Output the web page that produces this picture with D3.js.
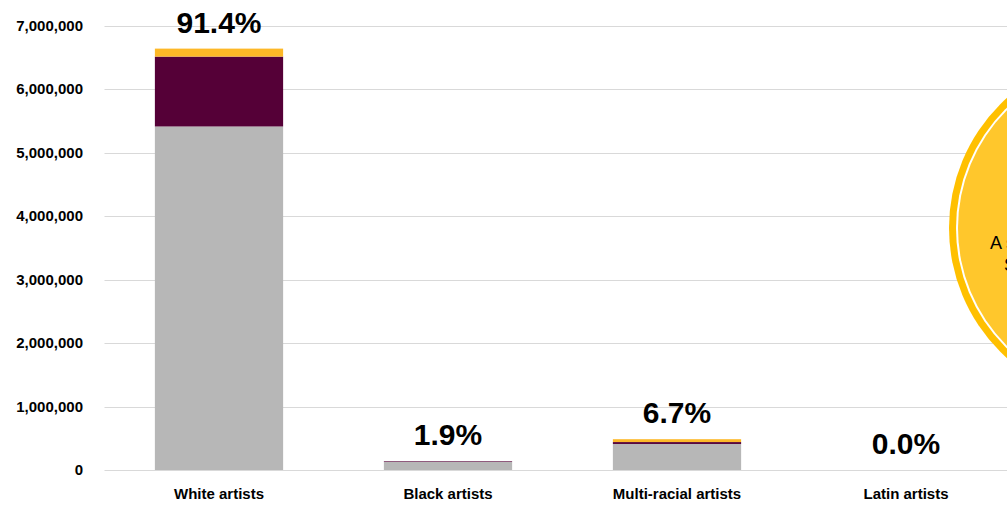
<!DOCTYPE html>
<html>
<head>
<meta charset="utf-8">
<script src="https://cdn.jsdelivr.net/npm/d3@7"></script>
<style>
  html, body { margin: 0; padding: 0; background: #fff; overflow: hidden; }
  svg { display: block; font-family: "Liberation Sans", Arial, sans-serif; }
</style>
</head>
<body>
<svg id="chart" width="1007" height="507"></svg>
<script>
// Categories and stacked segment values (number of works)
const categories = ["White artists", "Black artists", "Multi-racial artists", "Latin artists"];
const baseValues = [5410000, 128000, 410000, 0];      // grey segment
const middleValues = [1100000, 10000, 30000, 0];      // maroon segment
const topValues = [126000, 0, 45000, 0];              // gold segment
const shareLabels = ["91.4%", "1.9%", "6.7%", "0.0%"];
const yTicks = [0, 1000000, 2000000, 3000000, 4000000, 5000000, 6000000, 7000000];
const calloutLines = ["A small share of works by Asian", "Sculptors and painters alike"];

const segmentKeys = ["base", "middle", "top"];
const segmentColors = { base: "#b7b7b7", middle: "#550037", top: "#fdb827" };

const rows = categories.map((c, i) => ({
  category: c, base: baseValues[i], middle: middleValues[i], top: topValues[i], label: shareLabels[i]
}));

const svg = d3.select("#chart");
const margin = { left: 104.5, right: 1020.5, top: 25.5, bottom: 470 };

const x = d3.scaleBand().domain(categories).range([margin.left, margin.right]).paddingInner(0.44).paddingOuter(0.22);
const y = d3.scaleLinear().domain([0, 7000000]).range([margin.bottom, margin.top]);

// Horizontal gridlines
svg.append("g")
  .selectAll("line")
  .data(yTicks)
  .join("line")
  .attr("x1", margin.left).attr("x2", 1007)
  .attr("y1", d => Math.round(y(d)) + 0.5).attr("y2", d => Math.round(y(d)) + 0.5)
  .attr("stroke", "#d9d9d9").attr("stroke-width", 1);

// Y axis labels
const yAxis = d3.axisLeft(y).tickValues(yTicks).tickFormat(d3.format(",")).tickSize(0).tickPadding(0);
svg.append("g")
  .attr("transform", `translate(83,0)`)
  .call(yAxis)
  .call(g => g.select(".domain").remove())
  .call(g => g.selectAll("text")
    .attr("font-family", "Liberation Sans, Arial, sans-serif")
    .attr("font-size", 15).attr("font-weight", "bold").attr("fill", "#000"));

// Stacked bars
const stack = d3.stack().keys(segmentKeys)(rows);
svg.append("g")
  .selectAll("g")
  .data(stack)
  .join("g")
  .attr("fill", s => segmentColors[s.key])
  .selectAll("rect")
  .data(s => s)
  .join("rect")
  .attr("x", d => x(d.data.category))
  .attr("width", x.bandwidth())
  .attr("y", d => y(d[1]))
  .attr("height", d => Math.max(0, y(d[0]) - y(d[1])));

// Share labels above bars
svg.append("g")
  .selectAll("text")
  .data(rows)
  .join("text")
  .attr("x", d => x(d.category) + x.bandwidth() / 2)
  .attr("y", d => y(d.base + d.middle + d.top) - 16)
  .attr("text-anchor", "middle")
  .attr("font-size", 30).attr("font-weight", "bold").attr("fill", "#000")
  .text(d => d.label);

// Category labels
svg.append("g")
  .selectAll("text")
  .data(categories)
  .join("text")
  .attr("x", d => x(d) + x.bandwidth() / 2)
  .attr("y", 499)
  .attr("text-anchor", "middle")
  .attr("font-size", 15).attr("font-weight", "bold").attr("fill", "#000")
  .text(d => d);

// Callout bubble
const bubble = svg.append("g").attr("transform", "translate(1124,228)");
bubble.append("circle").attr("r", 175).attr("fill", "#ffc000");
bubble.append("circle").attr("r", 168).attr("fill", "#fff");
bubble.append("circle").attr("r", 166).attr("fill", "#ffc72c");
bubble.selectAll("text")
  .data(calloutLines)
  .join("text")
  .attr("x", (d, i) => i === 0 ? -134 : -120)
  .attr("y", (d, i) => 21 + i * 22)
  .attr("text-anchor", "start")
  .attr("font-size", 18).attr("fill", "#000")
  .text(d => d);
</script>
</body>
</html>
